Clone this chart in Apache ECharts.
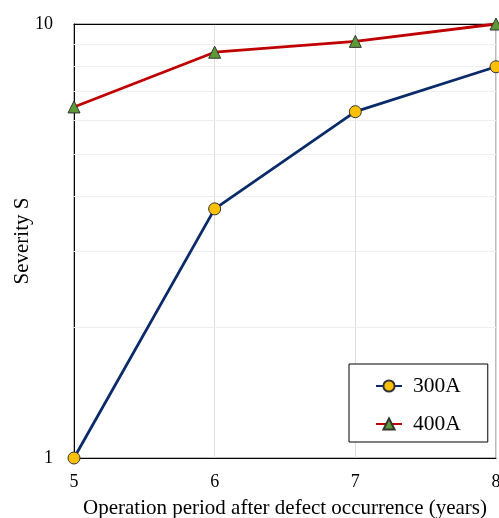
<!DOCTYPE html>
<html>
<head>
<meta charset="utf-8">
<script src="https://cdn.jsdelivr.net/npm/echarts@6/dist/echarts.min.js"></script>
<style>
  html, body { margin: 0; padding: 0; background: #fff; }
  #chart { width: 499px; height: 518px; }
</style>
</head>
<body>
<div id="chart"></div>
<script>
// data
const years = [5, 6, 7, 8];
const sev300A = [1, 3.75, 6.28, 7.97];
const sev400A = [6.44, 8.61, 9.12, 10];
// minor log gridlines
const minorGrid = [2, 3, 4, 5, 6, 7, 8, 9];

const serif = '"Liberation Serif", "DejaVu Serif", serif';

const chart = echarts.init(document.getElementById('chart'));

const option = {
    animation: false,
    textStyle: { fontFamily: serif },
    grid: {
        left: 74,
        right: 3,
        top: 24,
        bottom: 60,
        outerBoundsMode: 'none',
        containLabel: false,
        show: true,
        borderColor: '#777',
        borderWidth: 1
    },
    legend: {
        orient: 'vertical',
        left: 349,
        top: 364,
        padding: [11, 27, 7, 26],
        itemWidth: 26,
        itemHeight: 14,
        itemGap: 16,
        backgroundColor: '#fff',
        borderColor: '#000',
        borderWidth: 1,
        textStyle: { fontFamily: serif, fontSize: 21.5, color: '#000', padding: [0, 0, 0, 6] },
        data: ['300A', '400A']
    },
    xAxis: [
        {
            type: 'value',
            min: 5,
            max: 8,
            interval: 1,
            name: 'Operation period after defect occurrence (years)',
            nameLocation: 'middle',
            nameGap: 40,
            nameMoveOverlap: false,
            nameTextStyle: { fontFamily: serif, fontSize: 21, color: '#000' },
            axisLine: { show: true, lineStyle: { color: '#000', width: 1 } },
            axisTick: { show: false },
            axisLabel: { fontFamily: serif, fontSize: 18, color: '#000', margin: 15 },
            splitLine: { show: true, lineStyle: { color: '#ddd', width: 1 } }
        },
        {
            type: 'value',
            position: 'top',
            min: 5,
            max: 8,
            axisLine: { show: true, onZero: false, lineStyle: { color: '#000', width: 1 } },
            axisTick: { show: false },
            axisLabel: { show: false },
            splitLine: { show: false }
        }
    ],
    yAxis: {
        type: 'log',
        logBase: 10,
        min: 1,
        max: 10,
        name: 'Severity S',
        nameLocation: 'middle',
        nameGap: 41,
        nameMoveOverlap: false,
        nameTextStyle: { fontFamily: serif, fontSize: 21, color: '#000' },
        axisLine: { show: true, lineStyle: { color: '#000', width: 1 } },
        axisTick: { show: false },
        axisLabel: { fontFamily: serif, fontSize: 18, color: '#000', margin: 21 },
        splitLine: { show: false }
    },
    series: [
        {
            name: 'minor',
            type: 'line',
            data: [],
            silent: true,
            markLine: {
                silent: true,
                z: 1,
                symbol: 'none',
                label: { show: false },
                emphasis: { disabled: true },
                lineStyle: { color: '#eee', width: 1, type: 'solid' },
                data: minorGrid.map(v => ({ yAxis: v }))
            },
            z: 1
        },
        {
            name: '300A',
            type: 'line',
            data: years.map((x, i) => [x, sev300A[i]]),
            symbol: 'circle',
            symbolSize: 12,
            lineStyle: { color: '#0b2a6a', width: 2.8 },
            itemStyle: { color: '#ffc000', borderColor: '#333', borderWidth: 1 },
            z: 3
        },
        {
            name: '400A',
            type: 'line',
            data: years.map((x, i) => [x, sev400A[i]]),
            symbol: 'triangle',
            symbolSize: 12,
            lineStyle: { color: '#c00000', width: 2.8 },
            itemStyle: { color: '#5c9a35', borderColor: '#333', borderWidth: 1 },
            z: 3
        }
    ]
};

chart.setOption(option);
</script>
</body>
</html>
